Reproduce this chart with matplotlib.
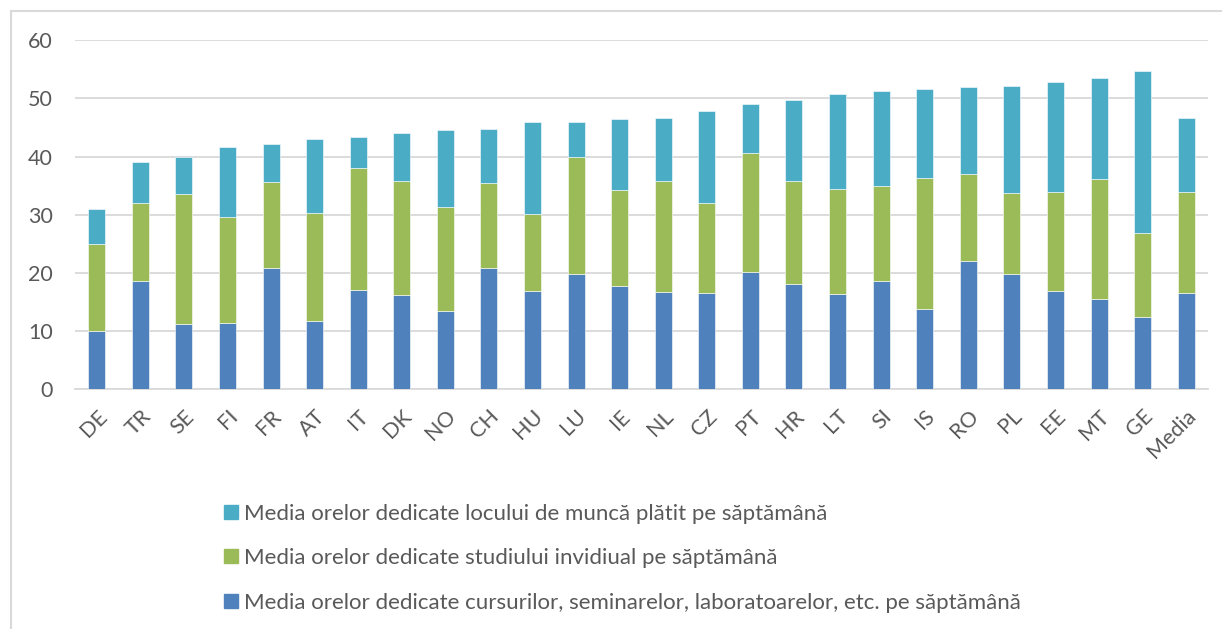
"""Stacked bars: average weekly hours of students per country."""

import matplotlib
matplotlib.use("Agg")
import matplotlib.pyplot as plt
from matplotlib.patches import Rectangle, Patch
import numpy as np

countries = ["DE", "TR", "SE", "FI", "FR", "AT", "IT", "DK", "NO", "CH", "HU", "LU",
             "IE", "NL", "CZ", "PT", "HR", "LT", "SI", "IS", "RO", "PL", "EE", "MT",
             "GE", "Media"]
# stack tops
cursuri = [10.0, 18.6, 11.2, 11.5, 20.8, 11.7, 17.1, 16.2, 13.5, 20.9, 17.0, 19.8,
           17.7, 16.7, 16.6, 20.2, 18.1, 16.4, 18.7, 13.9, 22.1, 19.8, 16.9, 15.5,
           12.5, 16.5]
studiu_top = [25.0, 32.1, 33.5, 29.6, 35.6, 30.3, 38.0, 35.8, 31.3, 35.5, 30.1, 39.9,
              34.2, 35.8, 32.0, 40.6, 35.8, 34.4, 35.0, 36.4, 37.1, 33.8, 34.0, 36.2,
              26.8, 33.9]
total = [31.0, 39.0, 39.9, 41.7, 42.1, 43.1, 43.4, 44.0, 44.6, 44.8, 46.0, 46.0,
         46.4, 46.6, 47.9, 49.0, 49.8, 50.7, 51.3, 51.7, 52.0, 52.1, 52.8, 53.6,
         54.8, 46.6]

labels = ["Media orelor dedicate cursurilor, seminarelor, laboratoarelor, etc. pe săptămână",
          "Media orelor dedicate studiului invidiual pe săptămână",
          "Media orelor dedicate locului de muncă plătit pe săptămână"]
colors = ["#4F81BD", "#9BBB59", "#4BACC6"]

plt.rcParams["font.family"] = ["Lato", "DejaVu Sans"]
text_color = "#595959"

fig = plt.figure(figsize=(12.22, 6.29), dpi=100)
ax = fig.add_axes([0.0614, 0.3808, 0.9271, 0.5552])

cursuri = np.array(cursuri)
studiu = np.array(studiu_top) - cursuri
munca = np.array(total) - np.array(studiu_top)
x = np.arange(len(countries))
w = 0.39
ax.bar(x, cursuri, w, color=colors[0], edgecolor="white", linewidth=0.4, zorder=3)
ax.bar(x, studiu, w, bottom=cursuri, color=colors[1], edgecolor="white",
       linewidth=0.4, zorder=3)
ax.bar(x, munca, w, bottom=cursuri + studiu, color=colors[2], edgecolor="white",
       linewidth=0.4, zorder=3)

ax.set_xlim(-0.5, len(countries) - 0.5)
ax.set_ylim(0, 60)
ax.set_yticks(range(0, 61, 10))
ax.grid(axis="y", color="#D9D9D9", linewidth=1.3, zorder=0)
for s in ["top", "right", "left"]:
    ax.spines[s].set_visible(False)
ax.spines["bottom"].set_color("#D9D9D9")
ax.spines["bottom"].set_linewidth(1.3)
ax.tick_params(length=0, labelsize=15.5, colors=text_color)
ax.tick_params(axis="y", pad=16)
ax.set_xticks(x)
ax.set_xticklabels(countries, rotation=45, ha="right", rotation_mode="anchor")
ax.tick_params(axis="x", pad=12)

handles = [Patch(color=c) for c in colors][::-1]
leg = fig.legend(handles, labels[::-1], loc="upper left",
                 bbox_to_anchor=(0.183, 0.199), frameon=False, fontsize=16,
                 labelspacing=1.1, handlelength=0.63, handleheight=0.6,
                 handletextpad=0.3, borderaxespad=0, borderpad=0)
for t in leg.get_texts():
    t.set_color(text_color)

fig.patches.append(Rectangle((0.009, -0.05), 1.1, 1.032, transform=fig.transFigure,
                             fill=False, edgecolor="#D9D9D9", linewidth=1.5))

fig.savefig("out.png", dpi=100)
plt.close(fig)
